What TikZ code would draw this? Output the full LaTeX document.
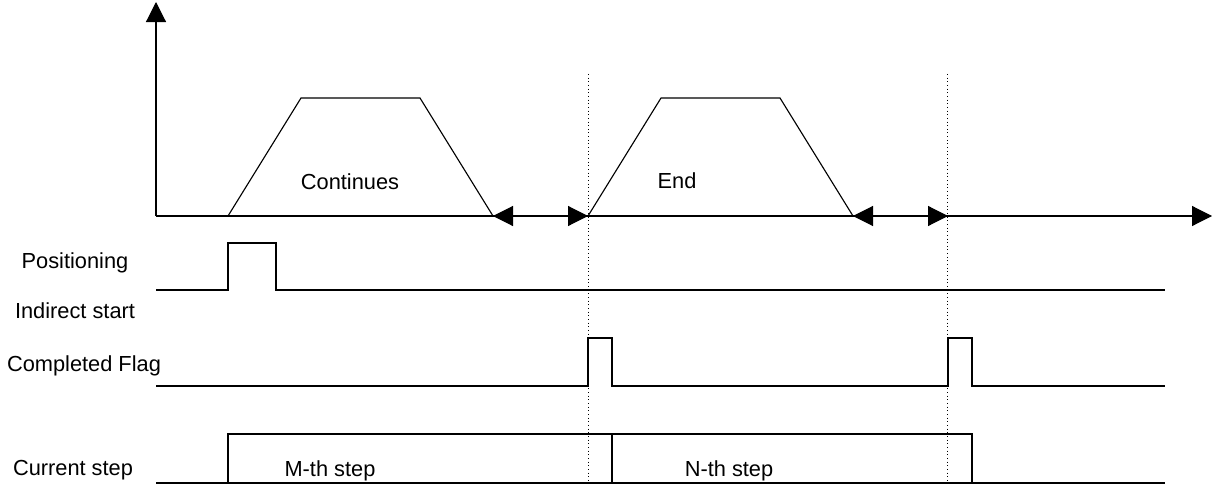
\documentclass[tikz,border=0pt]{standalone}
\usepackage{fontspec}
\setmainfont{Liberation Sans}
\usetikzlibrary{arrows.meta,positioning}

\begin{document}
\begin{tikzpicture}[x=0.025cm,y=-0.025cm,line width=0.8pt,
  every node/.style={font=\fontsize{15.5}{18}\selectfont},
  tip/.style={-{Triangle[length=0.5cm,width=0.5cm]}},
  span/.style={{Triangle[length=0.5cm,width=0.5cm]}-{Triangle[length=0.5cm,width=0.5cm]}},
  guide/.style={dotted,line width=0.6pt}]
  \useasboundingbox (0,0) rectangle (1217,486);

  % Axes
  \coordinate (O) at (156,216);
  \coordinate (Ytop) at (156,2);
  \coordinate (Xend) at (1212,216);
  \draw[tip] (O) -- (Ytop);
  \draw[tip] (O) -- (Xend);

  % Speed profiles and dwell times
  \foreach \s in {228,588} {
    \draw (\s,216) -- ++(73,-118) -- ++(119,0) -- ++(73,118) coordinate (stop\s);
    \coordinate (next\s) at (\s+360,216);
    \draw[span] (stop\s) -- (next\s);
  }
  \node (cont) at (350,182) {Continues};
  \node (end) at (677,181) {End};

  % Step boundaries
  \foreach \x in {588,947} {
    \draw[guide] (\x,74) -- (\x,486);
  }

  % Signal names
  \node (pos) at (75,263) {Positioning};
  \node (ind) at (75,311) {Indirect start};
  \node (flag) at (84,366) {Completed Flag};
  \node (cur) at (73,470) {Current step};

  % Positioning indirect start
  \draw (156,290) -- (228,290) -- (228,243) -- (276,243) -- (276,290) -- (1165,290);

  % Completed flag
  \draw (156,386) -- (588,386) -- (588,338) -- (612,338) -- (612,386)
    -- (948,386) -- (948,338) -- (972,338) -- (972,386) -- (1165,386);

  % Current step
  \draw (156,483) -- (1165,483);
  \draw (228,483) |- (972,434) -- (972,483);
  \draw (612,434) -- (612,483);
  \node (mstep) at (330,471) {M-th step};
  \node (nstep) at (729,471) {N-th step};
\end{tikzpicture}
\end{document}
